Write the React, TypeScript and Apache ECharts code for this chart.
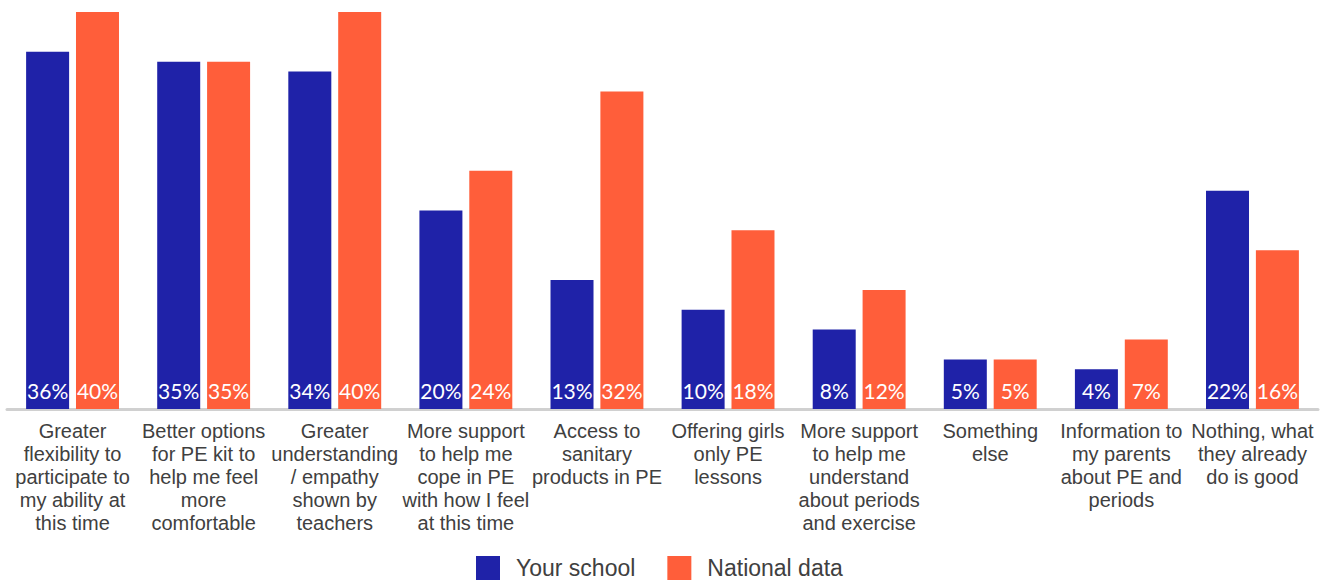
import React, { useEffect, useRef } from "react";
import * as echarts from "echarts";

const categories = [
  "Greater\nflexibility to\nparticipate to\nmy ability at\nthis time",
  "Better options\nfor PE kit to\nhelp me feel\nmore\ncomfortable",
  "Greater\nunderstanding\n/ empathy\nshown by\nteachers",
  "More support\nto help me\ncope in PE\nwith how I feel\nat this time",
  "Access to\nsanitary\nproducts in PE",
  "Offering girls\nonly PE\nlessons",
  "More support\nto help me\nunderstand\nabout periods\nand exercise",
  "Something\nelse",
  "Information to\nmy parents\nabout PE and\nperiods",
  "Nothing, what\nthey already\ndo is good",
];
const yourSchool = [36, 35, 34, 20, 13, 10, 8, 5, 4, 22];
const nationalData = [40, 35, 40, 24, 32, 18, 12, 5, 7, 16];

export default function App() {
  const ref = useRef<HTMLDivElement>(null);
  useEffect(() => {
    if (!ref.current) return;
    const chart = echarts.init(ref.current, undefined, { renderer: "svg" });
    const label = {
      show: true,
      position: "insideBottom",
      distance: 8,
      color: "#ffffff",
      fontSize: 21,
      fontFamily: "Lato",
      formatter: "{c}%",
    };
    chart.setOption({
      animation: false,
      grid: { left: 7, right: 11, top: 12, bottom: 176 },
      legend: {
        bottom: 0,
        left: 471,
        itemWidth: 24,
        itemHeight: 24,
        itemGap: 32,
        icon: "rect",
        textStyle: { fontSize: 23, color: "#404040", fontFamily: "Liberation Sans", padding: [0, 0, 0, 11] },
        data: ["Your school", "National data"],
      },
      xAxis: {
        type: "category",
        data: categories,
        axisLine: { lineStyle: { color: "#d0d0d0", width: 3 } },
        axisTick: { show: false },
        axisLabel: {
          interval: 0,
          color: "#404040",
          fontSize: 20,
          lineHeight: 23,
          fontFamily: "Liberation Sans",
          margin: 10,
        },
      },
      yAxis: {
        type: "value",
        min: 0,
        max: 40,
        show: false,
        splitLine: { show: false },
      },
      series: [
        {
          name: "Your school",
          type: "bar",
          data: yourSchool,
          barWidth: 43,
          barGap: "16%",
          itemStyle: { color: "#1F22A8" },
          label,
        },
        {
          name: "National data",
          type: "bar",
          data: nationalData,
          barWidth: 43,
          itemStyle: { color: "#FF5E3A" },
          label,
        },
      ],
    });
    return () => chart.dispose();
  }, []);
  return (
    <div
      ref={ref}
      style={{ position: "fixed", left: 0, top: 0, width: 1329, height: 585, background: "#fff" }}
    />
  );
}
